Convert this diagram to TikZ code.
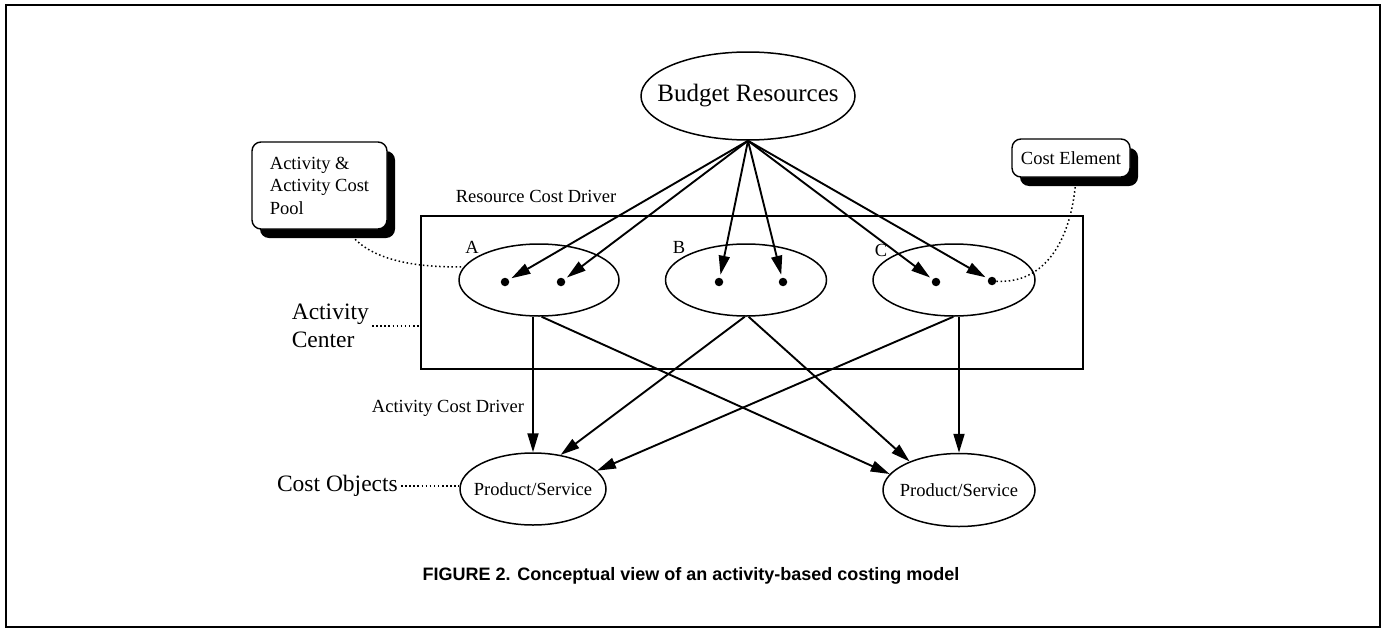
\documentclass[tikz,border=0pt]{standalone}
\usepackage{fontspec}
\setmainfont{Liberation Serif}
\newfontfamily\capfont{Liberation Sans}
\usetikzlibrary{shapes.geometric,arrows.meta,shadows,backgrounds}

\begin{document}
\begin{tikzpicture}[x=1pt,y=-1pt,
  every node/.style={inner sep=0pt},
  ovalnode/.style={draw,ellipse,line width=1.5pt,inner sep=0pt},
  smalltxt/.style={font=\fontsize{18.5}{22.5}\selectfont},
  bigtxt/.style={font=\fontsize{23.5}{28}\selectfont},
  flowarrow/.style={line width=1.9pt,-{Triangle[length=19pt,width=11pt]}},
  leaderline/.style={line width=1.5pt,dash pattern=on 1.5pt off 2.6pt},
  notebox/.style={draw,fill=white,rounded corners=9pt,line width=1.4pt,smalltxt,
     drop shadow={shadow xshift=8pt,shadow yshift=-9pt,fill=black,opacity=1}},
  blackdot/.style={circle,fill=black,minimum size=8.5pt,inner sep=0pt}]

\useasboundingbox (0,0) rectangle (1381,629);
\draw[line width=2.5pt] (6,5) rectangle (1380,627);

% top resource pool
\node[ovalnode,minimum width=214pt,minimum height=88pt] (br) at (748,96) {};
\node[font=\fontsize{25}{30}\selectfont] at (br) {Budget Resources};

% activity centre frame
\node[draw,line width=1.3pt,minimum width=662pt,minimum height=153pt] (ac) at (752,292.5) {};

% activities with their cost elements
\node[ovalnode,minimum width=160pt,minimum height=72pt] (ca) at (539,280) {};
\node[ovalnode,minimum width=161pt,minimum height=72pt] (cb) at (746,280) {};
\node[ovalnode,minimum width=162pt,minimum height=72pt] (cc) at (954,280) {};
\node[smalltxt] (la) at (472,247) {A};
\node[smalltxt] (lb) at (679,247) {B};
\node[smalltxt] (lc) at (881,250) {C};
\node[blackdot] (a1) at (505,282) {};
\node[blackdot] (a2) at (561,282) {};
\node[blackdot] (b1) at (719,282) {};
\node[blackdot] (b2) at (783,282) {};
\node[blackdot] (c1) at (936,282) {};
\node[blackdot] (c2) at (992,281) {};

% cost objects
\node[ovalnode,minimum width=146pt,minimum height=72pt] (ps1) at (533,489) {};
\node[smalltxt] at (ps1) {Product/Service};
\node[ovalnode,minimum width=152pt,minimum height=73pt] (ps2) at (959,490) {};
\node[smalltxt] at (ps2) {Product/Service};

% call-out boxes
\node[notebox,minimum width=135pt,minimum height=87pt,align=left] (pool) at (319.5,185.5)
  {Activity \&\\Activity Cost\\Pool};
\node[notebox,minimum width=118pt,minimum height=38pt] (ce) at (1071,158) {Cost Element};

% side labels
\node[smalltxt] (rcd) at (536,196) {Resource Cost Driver};
\node[smalltxt] (acd) at (448,408) {Activity Cost Driver};
\node[bigtxt,anchor=east] (co) at (398,486) {Cost Objects};
\node[bigtxt,align=left,anchor=east] (acl) at (369,326) {Activity\\Center};

% caption
\node[font=\capfont\bfseries\fontsize{18}{21}\selectfont] (cap) at (691,576)
  {FIGURE 2. Conceptual view of an activity-based costing model};

% resource cost drivers
\foreach \t in {a1,a2,b1,b2,c1,c2}
  \draw[flowarrow,shorten >=3pt] (br.south) -- (\t);

% activity cost drivers
\draw[flowarrow] (ps1.north |- ca.south) -- (ps1.north);
\draw[flowarrow] (ca.-86) -- (ps2.167);
\draw[flowarrow] (cb.-92) -- (ps1.51);
\draw[flowarrow] (cb.-86) -- (ps2.150);
\draw[flowarrow] (cc.-91) -- (ps1.16);
\draw[flowarrow] (ps2.north |- cc.south) -- (ps2.north);

% dotted leaders
\begin{scope}[on background layer]
  \draw[leaderline] ([xshift=28pt]pool.south) .. controls (365,258) and (410,268) .. (ca.170);
  \draw[leaderline] ([xshift=3pt]acl.east) -- (acl.east -| ac.west);
  \draw[leaderline,shorten <=3pt] (co.east) -- (co.east -| ps1.west);
  \draw[leaderline] (c2) .. controls (1045,284) and (1072,240) .. ([xshift=5pt]ce.south);
\end{scope}
\end{tikzpicture}
\end{document}
